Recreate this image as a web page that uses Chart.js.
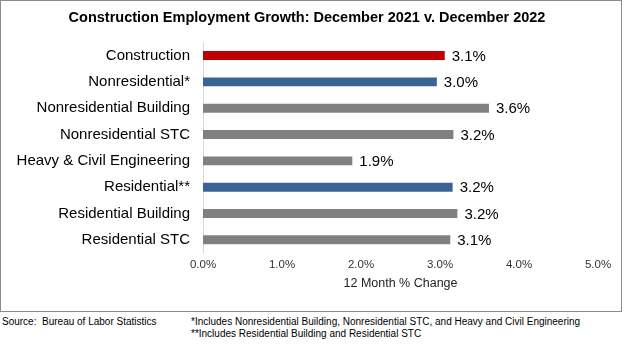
<!DOCTYPE html>
<html>
<head>
<meta charset="utf-8">
<script src="https://cdn.jsdelivr.net/npm/chart.js@4"></script>
<style>
  body { margin: 0; background: #fff; font-family: 'Liberation Sans', Arial, sans-serif; }
  .box { position: absolute; left: 0; top: 0; width: 620px; height: 310px; border: 1px solid #8c8c8c; }
  .note { position: absolute; font-size: 10px; color: #000; white-space: nowrap; }
</style>
</head>
<body>
<div class="box"><canvas id="growthChart" width="620" height="310"></canvas></div>
<div class="note" style="left:2px; top:316px;">Source:&nbsp; Bureau of Labor Statistics</div>
<div class="note" style="left:191px; top:316px;">*Includes Nonresidential Building, Nonresidential STC, and Heavy and Civil Engineering</div>
<div class="note" style="left:191px; top:328px;">**Includes Residential Building and Residential STC</div>
<script>
const categories = [
  'Construction',
  'Nonresidential*',
  'Nonresidential Building',
  'Nonresidential STC',
  'Heavy & Civil Engineering',
  'Residential**',
  'Residential Building',
  'Residential STC',
];
const growth = [3.06, 2.96, 3.62, 3.17, 1.89, 3.16, 3.22, 3.13];
const barColors = ['#c00000', '#3a6496', '#808080', '#808080', '#808080', '#3a6496', '#808080', '#808080'];
const xTicks = [0, 1, 2, 3, 4, 5];

const fontName = "'Liberation Sans', Arial, sans-serif";

// draws the % value to the right of each bar
const valueLabels = {
  id: 'valueLabels',
  afterDatasetsDraw(chart) {
    const ctx = chart.ctx;
    const meta = chart.getDatasetMeta(0);
    ctx.save();
    ctx.font = '15px ' + fontName;
    ctx.fillStyle = '#000';
    ctx.textBaseline = 'middle';
    ctx.textAlign = 'left';
    meta.data.forEach((bar, i) => {
      ctx.fillText(growth[i].toFixed(1) + '%', bar.x + 7, bar.y + 1);
    });
    ctx.restore();
  }
};

const chartCanvas = document.getElementById('growthChart');
new Chart(chartCanvas, {
  type: 'bar',
  data: {
    labels: categories,
    datasets: [{
      data: growth,
      backgroundColor: barColors,
      borderWidth: 0,
      barPercentage: 0.34,
      categoryPercentage: 1,
    }],
  },
  options: {
    indexAxis: 'y',
    responsive: false,
    animation: false,
    devicePixelRatio: 1,
    layout: { padding: { left: 15, right: 23, top: 0, bottom: 20 } },
    plugins: {
      legend: { display: false },
      tooltip: { enabled: false },
      title: {
        display: true,
        text: 'Construction Employment Growth: December 2021 v. December 2022',
        color: '#000',
        font: { family: fontName, size: 14.5, weight: 'bold' },
        padding: { top: 8, bottom: 16 },
      },
    },
    scales: {
      x: {
        min: 0,
        max: 5,
        afterBuildTicks: scale => { scale.ticks = xTicks.map(v => ({ value: v })); },
        grid: { display: false, drawTicks: false },
        border: { display: false },
        ticks: {
          color: '#333',
          padding: 5,
          font: { family: fontName, size: 11.5 },
          callback: v => v.toFixed(1) + '%',
        },
        title: {
          display: true,
          text: '12 Month % Change',
          color: '#222',
          font: { family: fontName, size: 12.5 },
          padding: { top: 2, bottom: 0 },
        },
        afterFit: scale => { scale.height = 38; },
      },
      y: {
        grid: { display: false, drawTicks: false },
        border: { display: true, color: '#d9d9d9', width: 1 },
        ticks: {
          color: '#000',
          padding: 13,
          font: { family: fontName, size: 15 },
        },
        afterFit: scale => { scale.width = 187; },
      },
    },
  },
  plugins: [valueLabels],
});
</script>
</body>
</html>
